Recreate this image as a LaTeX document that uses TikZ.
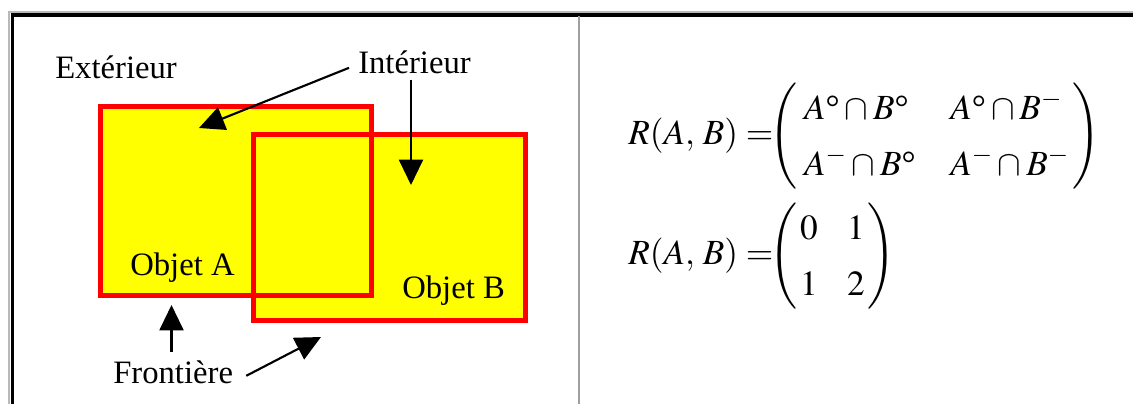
\documentclass[tikz,border=0pt]{standalone}
\usepackage{amsmath}
\usepackage{mathptmx}
\usepackage[no-math]{fontspec}
\setmainfont{Liberation Serif}
\usetikzlibrary{arrows.meta}
\definecolor{objfill}{RGB}{255,255,0}
\definecolor{objline}{RGB}{255,0,0}

\begin{document}
\begin{tikzpicture}[x=0.75pt, y=-0.75pt,
    lbl/.style={inner sep=0pt, anchor=base west, font=\fontsize{24.5}{29}\selectfont},
    rel/.style={inner sep=0pt, anchor=west, font=\fontsize{26.5}{32}\selectfont},
    obj/.style={draw=objline, line width=3.75pt},
    pointer/.style={-{Triangle[length=19pt, width=18pt]}, line width=1.6pt}]

    \useasboundingbox (0,0) rectangle (1133,404);

    % Frame
    \draw[gray!55, line width=1.5pt] (9,404) -- (9,12) -- (1133,12);
    \draw[black, line width=2.5pt] (12.5,404) -- (12.5,15) -- (1133,15);
    \draw[gray!75, line width=1.6pt] (579,16) -- (579,404);

    % Objects
    \fill[objfill] (100,106) rectangle (371,295);
    \fill[objfill] (253,134) rectangle (525,320);
    \draw[obj] (100,106) rectangle (371,295);
    \draw[obj] (253,134) rectangle (525,320);

    % Labels
    \node[lbl] (ext) at (55,78) {Extérieur};
    \node[lbl] (int) at (358,73) {Intérieur};
    \node[lbl] (objA) at (130,275) {Objet A};
    \node[lbl] (objB) at (402,298) {Objet B};
    \node[lbl] (front) at (113,383) {Frontière};

    % Pointers
    \coordinate (intA) at (199,128);
    \coordinate (intB) at (411,185);
    \coordinate (frA) at (171.5,305);
    \coordinate (frB) at (321,337);

    \draw[pointer] ([shift={(-9,6)}]int.west) -- (intA);
    \draw[pointer] (int.south -| intB) ++(0,6) -- (intB);
    \draw[pointer] (front.north -| frA) ++(0,-8) -- (frA);
    \draw[pointer] ([shift={(13,4)}]front.east) -- (frB);

    % Relation matrices
    \renewcommand{\arraystretch}{1.31}
    \newcommand{\dg}{\text{°}}
    \node[rel] (relG) at (628,136) {$R(A,\,B)=\mskip-6mu\left(\begin{array}{@{\hspace{5pt}}l@{\hspace{26pt}}l@{\hspace{3pt}}}
        A\dg\cap B\dg & A\dg\cap B^- \\ A^-\cap B\dg & A^-\cap B^- \end{array}\right)$};
    \node[rel] (relN) at (628,256) {$R(A,\,B)=\mskip-6mu\left(\begin{array}{@{\hspace{2pt}}c@{\hspace{22pt}}c@{\hspace{2pt}}}
        0 & 1 \\ 1 & 2 \end{array}\right)$};
\end{tikzpicture}
\end{document}
